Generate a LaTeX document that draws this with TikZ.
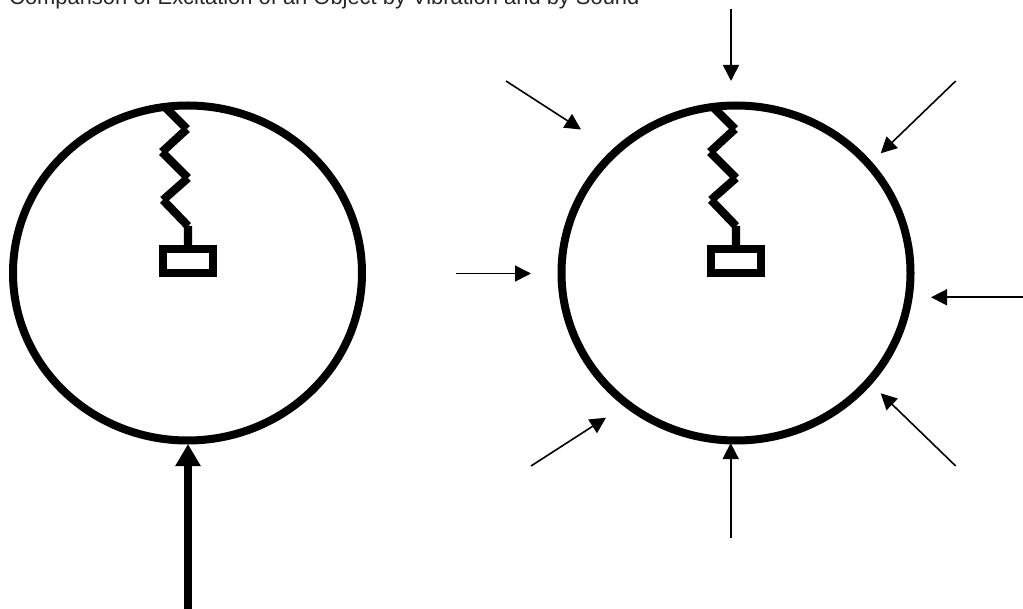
\documentclass[tikz,border=0pt]{standalone}
\usepackage{fontspec}
\setmainfont{Liberation Sans}
\usetikzlibrary{arrows.meta}
\tikzset{
  ring/.style={draw=black,line width=8pt,fill=none},
  coil/.style={draw=black,line width=8.3pt,line cap=butt},
  massbox/.style={draw=black,line width=8pt,fill=white,minimum width=50pt,minimum height=24pt,inner sep=0pt,outer sep=0pt,shape=rectangle},
  thin arrow/.style={draw=black,line width=1.6pt,-{Triangle[length=16pt,width=16pt]}},
  thick arrow/.style={draw=black,line width=8pt,-{Triangle[length=22pt,width=24pt]}},
}
\begin{document}
\begin{tikzpicture}[x=1pt,y=-1pt]
\useasboundingbox (0,0) rectangle (1023,609);
\begin{scope}
\clip (0,0) rectangle (1023,609);
\node[anchor=base west,inner sep=0pt,text=black!85,font=\fontsize{21.9pt}{24pt}\selectfont] (title) at (9,5) {Comparison of Excitation of an Object by Vibration and by Sound};
\end{scope}
% left
\draw[ring] (187.5,273) ellipse [x radius=174.5,y radius=167.5];
\coordinate (L0) at (165,107);
\coordinate (L1) at (187,129);
\coordinate (L2) at (162,152);
\coordinate (L3) at (188,178);
\coordinate (L4) at (163,200);
\coordinate (L5) at (188,226);
\coordinate (L6) at (188,249);
\draw[coil] (L0)--(L1) (L1)--(L2) (L2)--(L3) (L3)--(L4) (L4)--(L5) (L5)--(L6);
\node[massbox] (massL) at (188,261) {};
\coordinate (Lb) at (188,444);
\coordinate (Lf) at (188,609);
\draw[thick arrow] (Lf)--(Lb);
% right
\draw[ring] (736,273) ellipse [x radius=174.5,y radius=167.5];
\coordinate (R0) at (713,107);
\coordinate (R1) at (735,129);
\coordinate (R2) at (710,152);
\coordinate (R3) at (736,178);
\coordinate (R4) at (711,200);
\coordinate (R5) at (736,226);
\coordinate (R6) at (736,249);
\draw[coil] (R0)--(R1) (R1)--(R2) (R2)--(R3) (R3)--(R4) (R4)--(R5) (R5)--(R6);
\node[massbox] (massR) at (736,261) {};
\coordinate (a1s) at (731,9);   \coordinate (a1e) at (731,81);
\coordinate (a2s) at (506,81);  \coordinate (a2e) at (581,129.5);
\coordinate (a3s) at (955.7,81);  \coordinate (a3e) at (880.7,153.3);
\coordinate (a4s) at (456,273.5); \coordinate (a4e) at (531,273.5);
\coordinate (a5s) at (1023,297.3);\coordinate (a5e) at (931,297.3);
\coordinate (a6s) at (531,466); \coordinate (a6e) at (606,417.7);
\coordinate (a7s) at (955.7,466); \coordinate (a7e) at (880.7,393.3);
\coordinate (a8s) at (730.7,538); \coordinate (a8e) at (730.7,443);
\foreach \n in {1,...,8} \draw[thin arrow] (a\n s)--(a\n e);
\end{tikzpicture}
\end{document}
